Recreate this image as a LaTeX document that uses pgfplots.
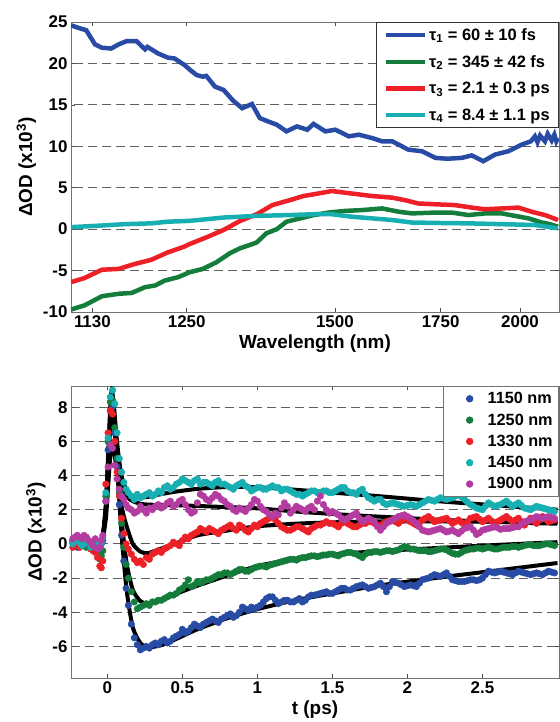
\documentclass[border=0pt]{standalone}
\usepackage{fontspec}
\setmainfont{Liberation Sans}
\usepackage{pgfplots}
\usepackage{pgfplotstable}
\pgfplotsset{compat=1.18}

\definecolor{cBlue}{RGB}{40,75,165}
\definecolor{cGreen}{RGB}{20,125,60}
\definecolor{cRed}{RGB}{237,32,40}
\definecolor{cCyan}{RGB}{24,175,178}
\definecolor{cMag}{RGB}{180,60,160}

% ---------- top panel: decay-associated spectra (wavelength nm, dOD x1e3)
\pgfplotstableread{
wl v
1106 24.6
1117 24.2
1123 24.0
1133 22.3
1141 21.9
1152 21.8
1161 22.3
1171 22.7
1183 22.7
1194 21.7
1197 22.0
1211 21.2
1224 20.7
1233 20.6
1247 19.8
1255 19.2
1264 18.6
1273 18.4
1278 18.5
1291 17.2
1304 16.8
1319 15.5
1333 14.6
1349 15.1
1362 13.4
1376 13.0
1391 12.6
1408 11.8
1427 12.4
1446 12.0
1458 12.7
1481 11.8
1501 12.0
1529 11.2
1550 11.4
1579 11.0
1602 10.6
1626 10.6
1665 9.6
1700 9.4
1736 8.6
1768 8.5
1810 8.6
1840 8.9
1876 8.2
1914 9.0
1959 9.4
2006 10.2
2040 10.6
2055 11.2
2065 10.5
2075 11.3
2094 10.6
2105 11.5
2121 10.7
2132 11.4
2140 10.6
2147 11.0
}\tabBlue

\pgfplotstableread{
wl v
1106 -9.7
1121 -9.2
1141 -8.1
1161 -7.8
1177 -7.7
1194 -7.0
1207 -6.8
1220 -6.2
1238 -5.8
1254 -5.2
1273 -4.8
1293 -4.0
1314 -2.9
1330 -2.3
1346 -1.9
1357 -1.6
1373 -0.5
1391 0.0
1408 0.9
1433 1.3
1458 1.7
1487 2.0
1521 2.2
1557 2.3
1602 2.5
1642 2.1
1674 1.9
1736 2.0
1781 2.0
1830 1.7
1881 1.9
1937 1.9
1982 1.6
2031 1.3
2081 0.8
2114 0.6
2147 0.3
}\tabGreen

\pgfplotstableread{
wl v
1106 -6.4
1121 -5.9
1141 -4.9
1161 -4.8
1181 -4.2
1202 -3.7
1224 -2.8
1247 -2.1
1254 -1.8
1278 -1.0
1304 -0.1
1330 1.0
1357 1.8
1383 2.9
1414 3.5
1439 4.0
1458 4.2
1494 4.6
1535 4.3
1579 4.0
1626 3.8
1657 3.5
1690 3.1
1736 3.0
1791 2.9
1840 2.6
1881 2.4
1937 2.5
1994 2.6
2043 2.1
2094 1.7
2121 1.4
2147 1.1
}\tabRed

\pgfplotstableread{
wl v
1106 0.24
1141 0.44
1168 0.6
1202 0.7
1224 0.9
1254 1.0
1304 1.4
1357 1.6
1414 1.7
1458 1.8
1494 1.8
1535 1.5
1579 1.3
1626 1.1
1674 0.8
1736 0.75
1830 0.7
1937 0.6
2055 0.5
2147 0.1
}\tabCyan

% ---------- bottom panel: kinetics (t ps, dOD x1e3)
\pgfplotstableread{
t b g r c m
-0.23 0.1 0.2 -0.2 0.0 0.3
-0.215 0.0 0.1 0.0 0.2 0.4
-0.20 -0.2 -0.1 0.1 0.3 0.5
-0.185 0.1 0.0 -0.2 0.1 0.4
-0.17 0.2 0.1 -0.1 -0.1 0.3
-0.155 -0.1 0.2 0.1 0.0 0.5
-0.14 0.0 -0.2 0.2 0.1 0.4
-0.125 0.1 -0.1 0.0 0.2 0.2
-0.11 -0.2 0.0 -0.3 -0.2 0.1
-0.095 0.0 -0.2 -0.4 -0.1 -0.1
-0.08 0.1 -0.3 -0.5 0.2 0.3
-0.065 -0.2 -0.5 -0.8 0.0 -0.3
-0.05 -0.3 -0.9 -1.3 -0.2 -0.2
-0.04 0.0 -0.7 -1.4 0.1 0.2
-0.03 0.2 -0.4 -1.0 0.4 0.5
-0.01 2.5 2.8 3.5 3.0 2.5
0.005 5.5 6.0 6.5 6.2 4.5
0.02 7.8 8.3 7.8 8.6 5.8
0.035 8.0 8.4 7.6 9.0 5.6
0.05 6.5 6.8 6.0 8.2 4.6
0.065 4.5 5.0 4.2 6.5 3.8
0.08 2.3 3.0 2.8 5.0 3.2
0.095 0.5 1.2 1.5 4.2 2.8
0.11 -1.0 -0.2 0.6 3.6 2.6
0.125 -2.6 -1.2 0.0 3.2 2.3
0.14 -3.6 -2.0 -0.3 3.0 2.1
0.16 -4.7 -2.8 -0.6 2.8 2.0
0.18 -5.5 -3.4 -0.9 2.6 1.8
0.20 -5.9 -3.8 -1.1 2.9 1.9
0.22 -6.2 -3.7 -1.0 2.7 2.2
0.24 -6.1 -3.6 -1.2 2.8 2.0
0.26 -6.0 -3.5 -0.8 2.9 1.8
0.28 -6.1 -3.6 -0.9 3.0 2.1
0.30 -5.9 -3.4 -0.6 2.8 2.0
0.32 -5.8 -3.4 -0.5 2.9 2.2
0.34 -5.9 -3.3 -0.4 3.1 2.3
0.36 -5.7 -3.3 -0.5 3.0 2.1
0.38 -5.6 -3.2 -0.3 3.3 2.2
0.40 -5.8 -3.1 -0.2 3.4 2.4
0.42 -5.7 -3.0 -0.1 3.2 2.5
0.44 -5.5 -3.0 0.1 3.3 2.2
0.46 -5.4 -2.9 0.0 3.5 2.3
0.48 -5.3 -2.7 -0.1 3.6 2.5
0.50 -5.0 -2.6 0.2 3.8 2.6
0.52 -5.2 -2.4 0.4 3.7 2.3
0.54 -5.1 -2.1 0.3 3.6 2.0
0.56 -4.9 -2.5 0.5 3.5 1.8
0.58 -4.7 -2.4 0.6 3.7 1.9
0.60 -4.8 -2.2 0.7 3.8 2.4
0.62 -4.9 -2.3 0.9 3.5 2.9
0.64 -4.7 -2.2 0.8 3.6 2.8
0.66 -4.6 -2.1 0.7 3.6 2.6
0.68 -4.5 -2.1 0.9 3.5 2.5
0.70 -4.4 -2.0 0.8 3.4 2.7
0.72 -4.5 -1.9 0.7 3.6 2.9
0.74 -4.6 -1.8 0.6 3.7 2.8
0.76 -4.4 -1.8 0.8 3.5 2.6
0.78 -4.3 -1.7 0.9 3.5 2.5
0.80 -4.2 -1.7 1.0 3.4 2.3
0.82 -4.1 -1.8 1.1 3.3 2.2
0.84 -4.3 -1.7 0.9 3.2 2.0
0.86 -4.2 -1.6 0.8 3.4 1.9
0.88 -4.0 -1.5 1.1 3.5 2.1
0.90 -3.7 -1.5 1.0 3.6 2.0
0.92 -3.8 -1.6 0.8 3.4 1.9
0.94 -3.9 -1.6 0.7 3.3 2.1
0.96 -3.7 -1.5 0.9 3.1 2.3
0.98 -3.8 -1.4 1.1 3.2 2.6
1.00 -3.7 -1.35 1.0 3.3 2.5
1.02 -3.6 -1.3 1.2 3.3 2.2
1.04 -3.4 -1.3 1.3 3.2 2.0
1.06 -3.2 -1.35 1.4 3.2 1.9
1.08 -3.1 -1.25 1.5 3.3 1.7
1.10 -3.1 -1.2 1.6 3.4 1.6
1.12 -3.3 -1.15 1.4 3.3 1.8
1.14 -3.5 -1.1 1.2 3.3 1.7
1.16 -3.4 -1.05 1.0 3.1 2.1
1.18 -3.3 -1.0 0.9 3.2 2.4
1.20 -3.3 -0.95 0.8 3.2 2.2
1.22 -3.4 -0.9 0.8 3.1 1.8
1.24 -3.4 -0.9 0.9 3.0 2.0
1.26 -3.3 -0.95 1.0 2.9 2.2
1.28 -3.2 -0.85 1.0 2.9 2.1
1.30 -3.4 -0.8 0.9 2.8 2.0
1.32 -3.3 -0.8 0.8 2.9 1.9
1.34 -3.1 -0.75 0.7 3.0 2.1
1.36 -3.0 -0.7 0.9 3.1 2.2
1.38 -3.0 -0.7 1.0 3.1 2.0
1.40 -2.95 -0.75 1.1 3.0 2.5
1.42 -2.9 -0.7 1.1 3.0 2.8
1.44 -2.85 -0.65 1.2 3.1 2.3
1.46 -2.8 -0.65 1.3 3.1 2.0
1.48 -2.9 -0.6 1.2 3.0 1.8
1.50 -2.9 -0.6 1.2 3.0 1.9
1.52 -2.8 -0.65 1.1 3.1 1.8
1.54 -2.7 -0.7 1.0 3.2 1.7
1.56 -2.6 -0.6 1.2 3.3 1.5
1.58 -2.6 -0.55 1.3 3.3 1.4
1.60 -2.7 -0.5 1.2 3.1 1.5
1.62 -2.7 -0.5 1.1 3.0 1.6
1.64 -2.6 -0.55 1.0 3.0 1.7
1.66 -2.5 -0.6 1.0 2.9 1.8
1.68 -2.45 -0.7 1.1 3.1 1.5
1.70 -2.4 -0.8 1.2 3.2 1.3
1.72 -2.5 -0.6 1.2 2.9 1.4
1.74 -2.6 -0.5 1.3 2.7 1.5
1.76 -2.55 -0.5 1.3 2.6 1.4
1.78 -2.5 -0.45 1.2 2.5 1.3
1.80 -2.4 -0.45 1.1 2.6 1.0
1.82 -2.3 -0.5 1.0 2.6 0.8
1.84 -2.5 -0.45 1.2 2.4 1.0
1.86 -2.8 -0.4 1.3 2.3 1.2
1.88 -2.5 -0.4 1.35 2.35 1.3
1.90 -2.2 -0.45 1.4 2.4 1.4
1.92 -2.25 -0.4 1.3 2.35 1.5
1.94 -2.3 -0.35 1.2 2.3 1.6
1.96 -2.4 -0.25 1.35 2.25 1.65
1.98 -2.5 -0.15 1.5 2.2 1.7
2.00 -2.45 -0.2 1.4 2.25 1.6
2.02 -2.4 -0.3 1.3 2.3 1.5
2.04 -2.45 -0.3 1.2 2.25 1.35
2.06 -2.5 -0.35 1.1 2.2 1.2
2.08 -2.3 -0.4 1.25 2.3 1.0
2.10 -2.1 -0.4 1.4 2.4 0.8
2.12 -2.05 -0.4 1.5 2.5 0.75
2.14 -2.0 -0.45 1.6 2.6 0.7
2.16 -1.9 -0.45 1.45 2.55 0.75
2.18 -1.8 -0.4 1.3 2.5 0.8
2.20 -1.85 -0.35 1.35 2.6 0.85
2.22 -1.9 -0.3 1.4 2.7 0.9
2.24 -1.8 -0.3 1.45 2.65 0.8
2.26 -1.7 -0.35 1.5 2.6 0.7
2.28 -1.9 -0.45 1.35 2.65 0.75
2.30 -2.1 -0.55 1.2 2.7 0.8
2.32 -2.15 -0.6 1.3 2.8 0.7
2.34 -2.2 -0.6 1.4 2.9 0.6
2.36 -2.2 -0.5 1.25 2.75 0.75
2.38 -2.2 -0.4 1.1 2.6 0.9
2.40 -2.15 -0.35 1.3 2.45 0.95
2.42 -2.1 -0.3 1.5 2.3 1.0
2.44 -2.1 -0.3 1.55 2.2 0.8
2.46 -2.15 -0.25 1.6 2.1 0.55
2.48 -2.1 -0.25 1.45 2.05 0.65
2.50 -2.0 -0.3 1.3 2.0 0.8
2.52 -1.8 -0.25 1.4 2.2 0.85
2.54 -1.6 -0.2 1.5 2.4 0.9
2.56 -1.65 -0.25 1.35 2.3 0.95
2.58 -1.7 -0.3 1.2 2.2 1.0
2.60 -1.65 -0.3 1.3 2.25 0.95
2.62 -1.6 -0.25 1.4 2.3 0.85
2.64 -1.65 -0.2 1.5 2.4 0.9
2.66 -1.7 -0.2 1.6 2.5 0.9
2.68 -1.75 -0.2 1.45 2.35 0.9
2.70 -1.8 -0.15 1.3 2.2 0.95
2.72 -1.7 -0.15 1.4 2.3 1.0
2.74 -1.6 -0.2 1.5 2.4 1.0
2.76 -1.65 -0.15 1.3 2.25 1.15
2.78 -1.7 -0.1 1.1 2.1 1.3
2.80 -1.75 -0.05 1.3 2.05 1.35
2.82 -1.8 -0.05 1.5 2.0 1.4
2.84 -1.75 -0.1 1.35 2.1 1.5
2.86 -1.7 -0.1 1.2 2.2 1.6
2.88 -1.75 -0.1 1.4 2.15 1.55
2.90 -1.8 -0.05 1.6 2.1 1.5
2.92 -1.7 0.0 1.45 2.05 1.55
2.94 -1.6 0.0 1.3 2.0 1.6
2.96 -1.65 -0.05 1.35 1.95 1.55
2.98 -1.7 -0.1 1.4 1.9 1.5
}\tabKin

\pgfplotstableread{
t b g r c m
-0.24 0 0 0 0 0
-0.05 0 0 0 0 0
-0.03 0.41 0.43 0.4 0.45 0.29
-0.01 2.05 2.13 2.0 2.25 1.45
0.0 3.69 3.83 3.6 4.05 2.6
0.01 5.58 5.78 5.45 6.1 3.95
0.02 7.38 7.65 7.2 8.1 5.2
0.03 8.2 8.5 8.0 9.0 5.8
0.045 7.0 7.3 7.0 8.0 5.3
0.06 5.2 5.6 5.5 6.4 4.6
0.08 2.5 3.2 3.5 4.8 3.8
0.10 0.0 1.0 2.0 3.8 3.2
0.13 -2.8 -1.2 1.0 3.1 2.75
0.17 -4.9 -2.7 0.0 2.8 2.5
0.22 -5.8 -3.35 -0.45 2.72 2.35
0.27 -6.05 -3.5 -0.55 2.75 2.3
0.35 -5.95 -3.3 -0.3 2.9 2.28
0.45 -5.6 -2.95 0.0 3.05 2.27
0.6 -5.0 -2.45 0.5 3.22 2.22
0.8 -4.35 -1.85 0.78 3.33 2.15
1.0 -3.82 -1.3 1.03 3.32 2.08
1.25 -3.3 -0.88 1.18 3.17 1.9
1.5 -2.9 -0.62 1.26 3.0 1.75
1.8 -2.45 -0.43 1.32 2.8 1.6
2.2 -1.98 -0.24 1.32 2.5 1.42
2.6 -1.55 -0.06 1.3 2.25 1.28
3.0 -1.12 0.1 1.26 2.0 1.18
}\tabFit

\pgfplotsset{
  myax/.style={
    scale only axis,
    axis line style={draw=black!55, line width=0.8bp},
    tick style={color=black!70, line width=0.7bp},
    major tick length=4bp,
    tick align=inside,
    ymajorgrids,
    major grid style={black!62, line width=0.8bp, dash pattern=on 9bp off 5bp},
    /pgf/number format/assume math mode=true,
    tick label style={font=\bfseries\fontsize{17}{17}\selectfont},
    label style={font=\bfseries\fontsize{19}{19}\selectfont},
    legend cell align=left,
  }
}

\begin{document}
\begin{tikzpicture}
\useasboundingbox (0bp,-722bp) rectangle (560bp,0bp);

% ===================== TOP PANEL =====================
\begin{axis}[myax,
  at={(71bp,-312bp)}, anchor=south west,
  width=488bp, height=290bp,
  x dir=reverse,
  xmin=0.4649, xmax=0.9042,
  ymin=-10, ymax=25,
  xtick={0.884956,0.8,0.666667,0.571429,0.5},
  xticklabels={1130,1250,1500,1750,2000},
  ytick={-10,-5,0,5,10,15,20,25},
  xlabel={Wavelength (nm)},
  ylabel={ΔOD (x10\textsuperscript{3})},
  legend style={at={(1,1)}, anchor=north east, draw=black!80, line width=0.7bp,
    font=\bfseries\fontsize{16.5}{16.5}\selectfont, inner xsep=7bp, inner ysep=4bp,
    row sep=9.5bp},
  legend image code/.code={\draw[#1] (0bp,0bp) -- (39bp,0bp);},
]
\addplot[cBlue, line width=4.5bp] table[x expr=1000/\thisrow{wl}, y=v] {\tabBlue};
\addlegendentry{τ\textsubscript{1} = 60 ± 10 fs}
\addplot[cGreen, line width=4.5bp] table[x expr=1000/\thisrow{wl}, y=v] {\tabGreen};
\addlegendentry{τ\textsubscript{2} = 345 ± 42 fs}
\addplot[cRed, line width=4.5bp] table[x expr=1000/\thisrow{wl}, y=v] {\tabRed};
\addlegendentry{τ\textsubscript{3} = 2.1 ± 0.3 ps}
\addplot[cCyan, line width=4.5bp] table[x expr=1000/\thisrow{wl}, y=v] {\tabCyan};
\addlegendentry{τ\textsubscript{4} = 8.4 ± 1.1 ps}
\end{axis}

% ===================== BOTTOM PANEL =====================
\begin{axis}[myax,
  at={(71bp,-678bp)}, anchor=south west,
  width=488bp, height=292bp,
  xmin=-0.242, xmax=3.01,
  ymin=-7.85, ymax=9.24,
  xtick={0,0.5,1,1.5,2,2.5},
  ytick={-6,-4,-2,0,2,4,6,8},
  xlabel={t (ps)},
  ylabel={ΔOD (x10\textsuperscript{3})},
  legend style={at={(1,1)}, anchor=north east, draw=black!55, line width=0.7bp,
    font=\bfseries\fontsize{16.3}{16.3}\selectfont, inner xsep=4bp, inner ysep=4bp,
    row sep=4.5bp},
  legend image code/.code={\path[draw=none, fill=none] (0bp,-3bp) rectangle (38bp,3bp);
    \draw[#1, only marks] plot coordinates {(22bp,0bp)};},
]
\addplot[only marks, mark=*, mark size=3.3bp, color=cBlue] table[x=t, y=b] {\tabKin};
\addlegendentry{1150 nm}
\addplot[only marks, mark=*, mark size=3.3bp, color=cGreen] table[x=t, y=g] {\tabKin};
\addlegendentry{1250 nm}
\addplot[only marks, mark=*, mark size=3.3bp, color=cRed] table[x=t, y=r] {\tabKin};
\addlegendentry{1330 nm}
\addplot[only marks, mark=*, mark size=3.3bp, color=cCyan] table[x=t, y=c] {\tabKin};
\addlegendentry{1450 nm}
\addplot[only marks, mark=*, mark size=3.3bp, color=cMag] table[x=t, y=m] {\tabKin};
\addlegendentry{1900 nm}
\addplot[black, line width=4bp, smooth, tension=0.4, forget plot] table[x=t, y=b] {\tabFit};
\addplot[black, line width=4bp, smooth, tension=0.4, forget plot] table[x=t, y=g] {\tabFit};
\addplot[black, line width=4bp, smooth, tension=0.4, forget plot] table[x=t, y=r] {\tabFit};
\addplot[black, line width=4bp, smooth, tension=0.4, forget plot] table[x=t, y=c] {\tabFit};
\addplot[black, line width=4bp, smooth, tension=0.4, forget plot] table[x=t, y=m] {\tabFit};
\end{axis}
\end{tikzpicture}
\end{document}
